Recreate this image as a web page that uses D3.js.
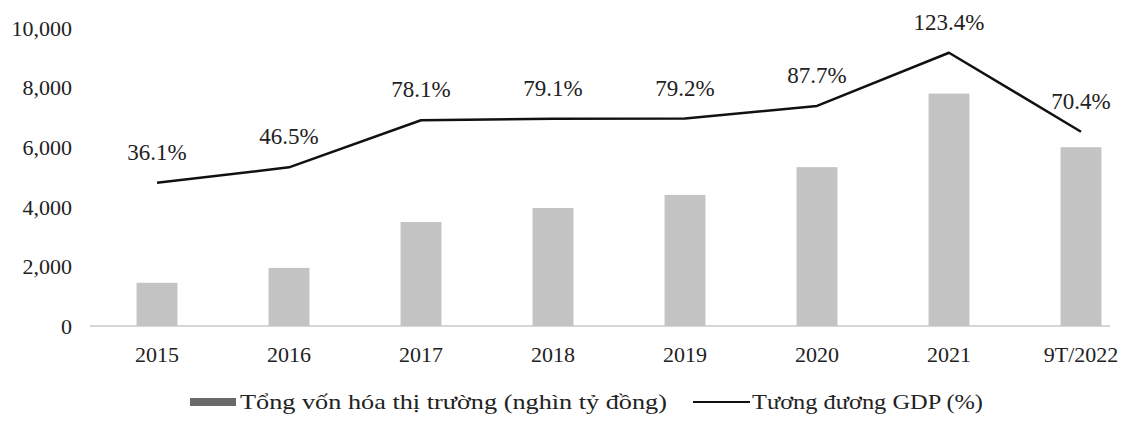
<!DOCTYPE html>
<html><head><meta charset="utf-8">
<script src="https://cdn.jsdelivr.net/npm/d3@7"></script>
<style>body{margin:0;background:#fff}svg{display:block}text{font-family:"Liberation Serif","Times New Roman",serif;fill:#222}</style>
</head><body><svg id="c" width="1126" height="421"></svg>
<script>
const categories = ["2015","2016","2017","2018","2019","2020","2021","9T/2022"];
const marketCap = [1450, 1950, 3490, 3960, 4400, 5330, 7800, 6000];
const gdpPct = [36.1, 46.5, 78.1, 79.1, 79.2, 87.7, 123.4, 70.4];
const yTicks = [0, 2000, 4000, 6000, 8000, 10000];
const legendLabels = ["Tổng vốn hóa thị trường (nghìn tỷ đồng)", "Tương đương GDP (%)"];

const svg = d3.select("#c");
const x = d3.scaleBand().domain(categories).range([91, 1147]).paddingInner(0.69).paddingOuter(0.345);
const y = d3.scaleLinear().domain([0, 10000]).range([326, 28]);
const y2 = d3.scaleLinear().domain([-60, 140]).range([326, 28]);

// baseline
svg.append("line").attr("x1", 90).attr("x2", 1110).attr("y1", y(0)).attr("y2", y(0))
  .attr("stroke", "#c8c8c8").attr("stroke-width", 1.5);

// y axis labels
svg.append("g").selectAll("text").data(yTicks).join("text")
  .attr("x", 72).attr("y", d => y(d)).attr("dy", "0.35em").attr("text-anchor", "end")
  .style("font-size", "22px").text(d => d3.format(",")(d));

// bars
svg.append("g").selectAll("rect").data(marketCap).join("rect")
  .attr("x", (d, i) => x(categories[i])).attr("width", x.bandwidth())
  .attr("y", d => y(d)).attr("height", d => y(0) - y(d)).attr("fill", "#c4c4c4");

// x labels
svg.append("g").selectAll("text").data(categories).join("text")
  .attr("x", d => x(d) + x.bandwidth() / 2).attr("y", 362).attr("text-anchor", "middle")
  .style("font-size", "22px").text(d => d);

// line
const cx = (i) => x(categories[i]) + x.bandwidth() / 2;
svg.append("path").datum(gdpPct)
  .attr("d", d3.line().x((d, i) => cx(i)).y(d => y2(d)))
  .attr("fill", "none").attr("stroke", "#111").attr("stroke-width", 2.5).attr("stroke-linejoin", "round");

// line labels
svg.append("g").selectAll("text").data(gdpPct).join("text")
  .attr("x", (d, i) => cx(i)).attr("y", d => y2(d) - 23).attr("text-anchor", "middle")
  .style("font-size", "23px").text(d => d.toFixed(1) + "%");

// legend
const lg = svg.append("g");
lg.append("rect").attr("x", 190).attr("y", 398).attr("width", 46).attr("height", 8).attr("fill", "#6a6a6a");
lg.append("text").attr("x", 240).attr("y", 409).attr("textLength", 427).attr("lengthAdjust", "spacingAndGlyphs")
  .style("font-size", "22px").text(legendLabels[0]);
lg.append("line").attr("x1", 693).attr("x2", 750).attr("y1", 402).attr("y2", 402).attr("stroke", "#111").attr("stroke-width", 2);
lg.append("text").attr("x", 752).attr("y", 409).attr("textLength", 231).attr("lengthAdjust", "spacingAndGlyphs")
  .style("font-size", "22px").text(legendLabels[1]);
</script></body></html>
